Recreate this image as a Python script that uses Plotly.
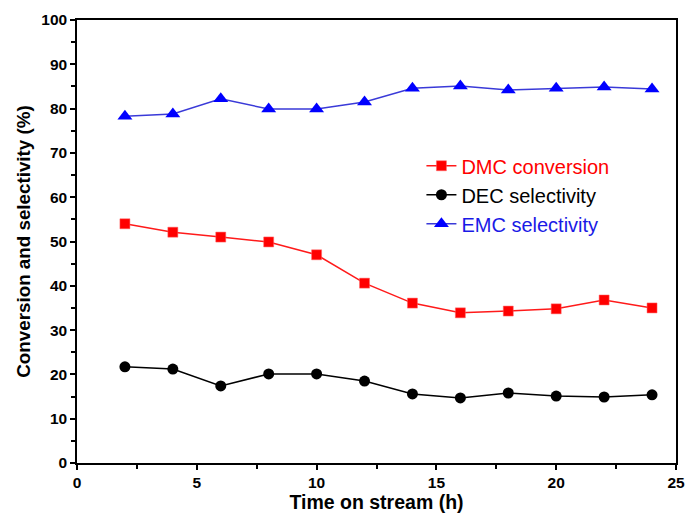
import plotly.graph_objects as go

time_h = [2, 4, 6, 8, 10, 12, 14, 16, 18, 20, 22, 24]
dmc_conversion = [54.0, 52.1, 51.0, 49.9, 47.0, 40.6, 36.1, 33.9, 34.3, 34.8, 36.8, 35.0]
dec_selectivity = [21.7, 21.2, 17.4, 20.1, 20.1, 18.5, 15.6, 14.7, 15.8, 15.1, 14.9, 15.4]
emc_selectivity = [78.3, 78.8, 82.2, 79.9, 79.9, 81.5, 84.6, 85.1, 84.2, 84.6, 84.9, 84.4]

fig = go.Figure()
fig.add_trace(go.Scatter(
    x=time_h, y=dmc_conversion, mode="lines+markers",
    name="<span style='color:#FF0000'>DMC conversion</span>",
    line=dict(color="#FF1A1A", width=1.5),
    marker=dict(symbol="square", size=10, color="#FF0000", line=dict(color="#FF6666", width=0.5)),
))
fig.add_trace(go.Scatter(
    x=time_h, y=dec_selectivity, mode="lines+markers",
    name="<span style='color:#000000'>DEC selectivity</span>",
    line=dict(color="#000000", width=1.5),
    marker=dict(symbol="circle", size=11, color="#000000"),
))
fig.add_trace(go.Scatter(
    x=time_h, y=emc_selectivity, mode="lines+markers",
    name="<span style='color:#1A1AE6'>EMC selectivity</span>",
    line=dict(color="#3A3AD8", width=1.5),
    marker=dict(symbol="triangle-up", size=13, color="#0000FF"),
))

axis_common = dict(
    showline=True, linecolor="black", linewidth=1.5, mirror=True,
    ticks="outside", ticklen=5, tickwidth=1.5, tickcolor="black",
    showgrid=False, zeroline=False, automargin=False,
    tickfont=dict(family="Arial, Liberation Sans", size=15.5, color="black", weight="bold"),
)

fig.update_layout(
    width=686, height=517,
    margin=dict(l=77, r=10, t=20, b=54),
    plot_bgcolor="white", paper_bgcolor="white",
    xaxis=dict(range=[0, 25], tickvals=[0, 5, 10, 15, 20, 25],
               minor=dict(tickvals=[2.5, 7.5, 12.5, 17.5, 22.5], ticks="outside", ticklen=4, tickwidth=1.5, tickcolor="black"),
               title=dict(text="<b>Time on stream (h)</b>", font=dict(family="Arial, Liberation Sans", size=19.5, color="black"), standoff=0),
               **axis_common),
    yaxis=dict(range=[0, 100], tickvals=list(range(0, 101, 10)),
               minor=dict(tickvals=list(range(5, 100, 10)), ticks="outside", ticklen=4, tickwidth=1.5, tickcolor="black"),
               title=dict(text="<b>Conversion and selectivity (%)</b>", font=dict(family="Arial, Liberation Sans", size=18.8, color="black"), standoff=6),
               **axis_common),
    legend=dict(x=0.575, y=0.715, xanchor="left", yanchor="top",
                bgcolor="rgba(0,0,0,0)", font=dict(family="Arial, Liberation Sans", size=20)),
)

fig.write_html(
    "out.html",
    config={"displayModeBar": False},
    post_script="document.body.style.margin='0';document.body.style.overflow='hidden';",
)
